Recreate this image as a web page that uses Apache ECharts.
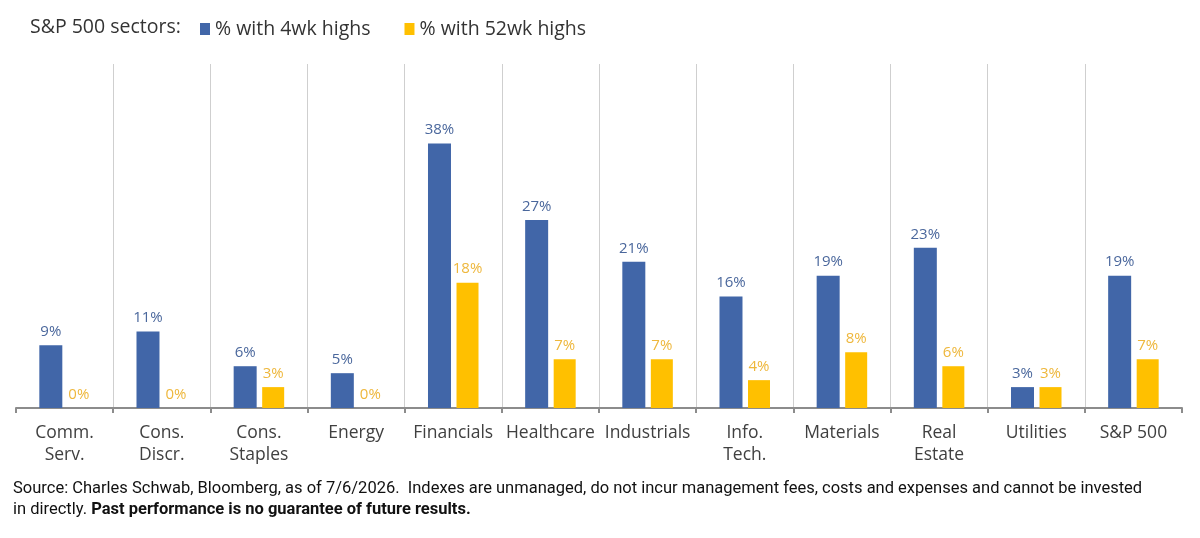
<!DOCTYPE html>
<html>
<head>
<meta charset="utf-8">
<script src="https://cdn.jsdelivr.net/npm/echarts@6/dist/echarts.min.js"></script>
<style>
  html, body { margin: 0; padding: 0; background: #fff; }
  #chart { width: 1200px; height: 538px; }
</style>
</head>
<body>
<div id="chart"></div>
<script>
// sectors and values
const sectors = ['Comm.\nServ.', 'Cons.\nDiscr.', 'Cons.\nStaples', 'Energy', 'Financials', 'Healthcare',
  'Industrials', 'Info.\nTech.', 'Materials', 'Real\nEstate', 'Utilities', 'S&P 500'];
const highs4wk = [9, 11, 6, 5, 38, 27, 21, 16, 19, 23, 3, 19];
const highs52wk = [0, 0, 3, 0, 18, 7, 7, 4, 8, 6, 3, 7];

const BLUE = '#4166a8';
const YELLOW = '#ffc000';
const FONT = 'Open Sans';
const NOTE_FONT = 'Roboto';

const chart = echarts.init(document.getElementById('chart'));

const option = {
  animation: false,
  textStyle: { fontFamily: FONT },
  grid: { left: 16, right: 18, top: 64, bottom: 130, containLabel: false },
  legend: {
    left: 195,
    top: 14,
    itemWidth: 10,
    itemHeight: 12,
    itemGap: 34,
    icon: 'rect',
    textStyle: { fontSize: 19.5, color: '#333', fontFamily: FONT },
    data: ['% with 4wk highs', '% with 52wk highs']
  },
  graphic: [
    {
      type: 'text', left: 30, top: 17,
      style: { text: 'S&P 500 sectors:', fontSize: 19.5, fill: '#333', fontFamily: FONT }
    },
    {
      type: 'text', left: 13, top: 480,
      style: {
        rich: {
          n: { fontSize: 16.5, fill: '#111', fontFamily: NOTE_FONT, lineHeight: 21 },
          b: { fontSize: 16.5, fill: '#111', fontFamily: NOTE_FONT, fontWeight: 'bold', lineHeight: 21 }
        },
        text: '{n|Source: Charles Schwab, Bloomberg, as of 7/6/2026.  Indexes are unmanaged, do not incur management fees, costs and expenses and cannot be invested}\n{n|in directly. }{b|Past performance is no guarantee of future results.}'
      }
    }
  ],
  xAxis: {
    type: 'category',
    data: sectors,
    axisLine: { lineStyle: { color: '#8c8c8c', width: 2 } },
    axisTick: { show: true, length: 5, lineStyle: { color: '#8c8c8c', width: 2 } },
    axisLabel: { fontSize: 17.5, color: '#404040', lineHeight: 22, margin: 14, interval: 0 },
    splitLine: { show: true, showMinLine: false, showMaxLine: false, lineStyle: { color: '#cfcfcf', width: 1 } }
  },
  yAxis: {
    type: 'value',
    min: 0,
    max: 49.4,
    show: false,
    splitLine: { show: false }
  },
  series: [
    {
      name: '% with 4wk highs',
      type: 'bar',
      data: highs4wk,
      barWidth: 23,
      barGap: '24%',
      itemStyle: { color: BLUE },
      label: { show: true, position: 'top', distance: 6, formatter: '{c}%', fontSize: 15, color: '#4a679c', fontFamily: FONT }
    },
    {
      name: '% with 52wk highs',
      type: 'bar',
      data: highs52wk,
      barWidth: 22,
      itemStyle: { color: YELLOW },
      label: { show: true, position: 'top', distance: 6, formatter: '{c}%', fontSize: 15, color: '#eeb73c', fontFamily: FONT }
    }
  ]
};

chart.setOption(option);
</script>
</body>
</html>
